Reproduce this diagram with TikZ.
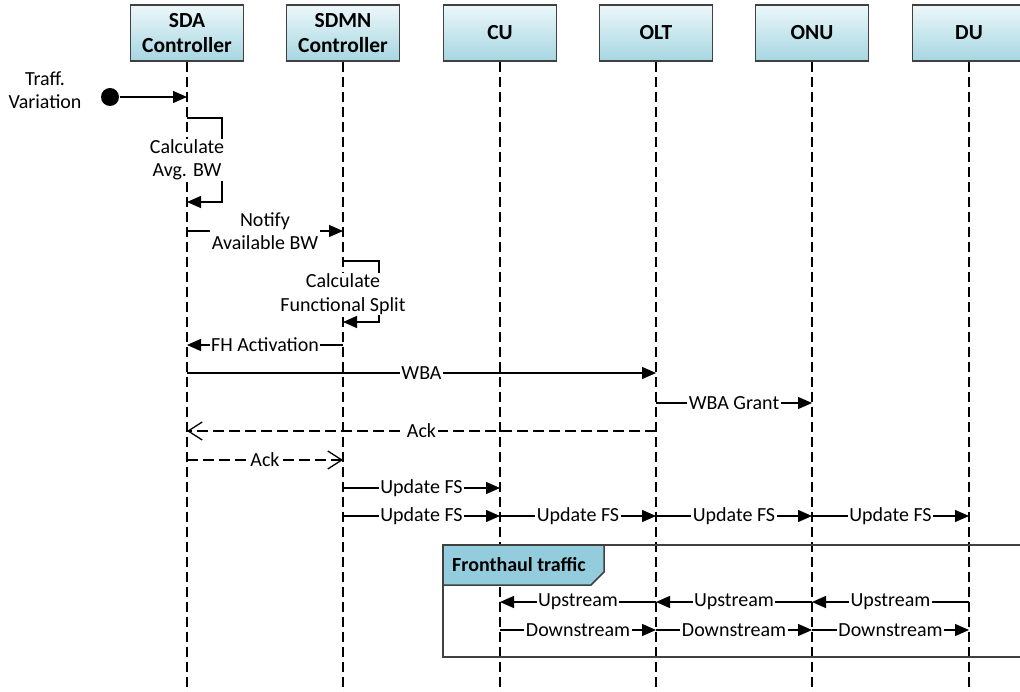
\documentclass[tikz,border=0pt]{standalone}
\usepackage{fontspec}
\setmainfont{Carlito}
\usetikzlibrary{arrows.meta}
\definecolor{hdrtop}{RGB}{236,247,250}
\definecolor{hdrbot}{RGB}{166,214,225}
\definecolor{hdrline}{RGB}{64,64,64}
\definecolor{tabc}{RGB}{147,205,221}
\begin{document}
\begin{tikzpicture}[x=1pt,y=-1pt, line width=1.3pt,
  hdr/.style={draw=hdrline, top color=hdrtop, bottom color=hdrbot, minimum width=113pt, minimum height=56pt,
    font=\bfseries\fontsize{21.5}{25.5}\selectfont, align=center, inner sep=0pt},
  life/.style={draw=black, dash pattern=on 10pt off 5pt, line width=1.2pt},
  msg/.style={-{Triangle[length=14pt,width=12pt]}},
  ret/.style={dash pattern=on 11pt off 5pt, -{Straight Barb[length=14pt,width=18pt]}},
  lbl/.style={fill=white, inner xsep=1.5pt, inner ysep=0.5pt, font=\fontsize{20}{23.5}\selectfont, align=center},
  txt/.style={inner sep=0pt, font=\fontsize{20}{23.5}\selectfont, align=center},
  frm/.style={draw=hdrline, line width=1.5pt},
]
\useasboundingbox (0,0) rectangle (1020,692);
\clip (0,0) rectangle (1020,692);
% lifeline ends
\coordinate (sdaE) at (187,692);
\coordinate (sdmnE) at (343,692);
\coordinate (cuE) at (500,692);
\coordinate (oltE) at (656,692);
\coordinate (onuE) at (812,692);
\coordinate (duE) at (969,692);
% headers
\node[hdr] (sda) at (187,33) {SDA\\Controller};
\node[hdr] (sdmn) at (343,33) {SDMN\\Controller};
\node[hdr] (cu) at (500,33) {CU};
\node[hdr] (olt) at (656,33) {OLT};
\node[hdr] (onu) at (812,33) {ONU};
\node[hdr] (du) at (969,33) {DU};
\draw[life] (sda.south) -- (sdaE);
\draw[life] (sdmn.south) -- (sdmnE);
\draw[life] (cu.south) -- (cuE);
\draw[life] (olt.south) -- (oltE);
\draw[life] (onu.south) -- (onuE);
\draw[life] (du.south) -- (duE);

% Traffic variation
\node[txt] (tv) at (45,90) {Traff.\\Variation};
\node[circle, fill=black, inner sep=0pt, minimum size=18pt] (dot) at (110,97) {};
\coordinate (tvE) at (187,97);
\draw[msg] (dot) -- (tvE);

% self loop SDA
\coordinate (a1) at (187,118);
\coordinate (a2) at (187,202);
\draw[msg] (a1) -- ++(35,0) -- ++(0,84) -- (a2);
\node[lbl] (la) at (187,160) {Calculate\\Avg. BW};

% Notify
\coordinate (b1) at (187,231);
\coordinate (b2) at (343,231);
\draw[msg] (b1) -- node[lbl] {Notify\\Available BW} (b2);

% self loop SDMN
\coordinate (c1) at (343,261);
\coordinate (c2) at (343,322);
\draw[msg] (c1) -- ++(36,0) -- ++(0,61) -- (c2);
\node[lbl] (lc) at (343,294) {Calculate\\Functional Split};

% FH Activation
\coordinate (d1) at (343,345);
\coordinate (d2) at (187,345);
\draw[msg] (d1) -- node[lbl] {FH Activation} (d2);

% WBA
\coordinate (e1) at (187,373);
\coordinate (e2) at (656,373);
\draw[msg] (e1) -- node[lbl] {WBA} (e2);

% WBA Grant
\coordinate (f1) at (656,403);
\coordinate (f2) at (812,403);
\draw[msg] (f1) -- node[lbl] {WBA Grant} (f2);

% Ack
\coordinate (g1) at (656,431);
\coordinate (g2) at (187,431);
\draw[ret] (g1) -- node[lbl] {Ack} (g2);
\coordinate (h1) at (187,460);
\coordinate (h2) at (343,460);
\draw[ret] (h1) -- node[lbl] {Ack} (h2);

% Update FS
\coordinate (i1) at (343,488);
\coordinate (i2) at (500,488);
\draw[msg] (i1) -- node[lbl] {Update FS} (i2);
\coordinate (j1) at (343,516);
\coordinate (j2) at (500,516);
\coordinate (j3) at (656,516);
\coordinate (j4) at (812,516);
\coordinate (j5) at (969,516);
\draw[msg] (j1) -- node[lbl] {Update FS} (j2);
\draw[msg] (j2) -- node[lbl] {Update FS} (j3);
\draw[msg] (j3) -- node[lbl] {Update FS} (j4);
\draw[msg] (j4) -- node[lbl] {Update FS} (j5);

% Fronthaul frame
\draw[frm] (443,545) rectangle (1040,657);
\draw[frm, fill=tabc] (443,545) -- (604,545) -- (604,572) -- (591,585) -- (443,585) -- cycle;
\node[inner sep=0pt, font=\bfseries\fontsize{20}{23}\selectfont] (ft) at (519,565) {Fronthaul traffic};

\coordinate (k1) at (969,602);
\coordinate (k2) at (812,602);
\coordinate (k3) at (656,602);
\coordinate (k4) at (500,602);
\draw[msg] (k1) -- node[lbl] {Upstream} (k2);
\draw[msg] (k2) -- node[lbl] {Upstream} (k3);
\draw[msg] (k3) -- node[lbl] {Upstream} (k4);
\coordinate (m1) at (500,630);
\coordinate (m2) at (656,630);
\coordinate (m3) at (812,630);
\coordinate (m4) at (969,630);
\draw[msg] (m1) -- node[lbl] {Downstream} (m2);
\draw[msg] (m2) -- node[lbl] {Downstream} (m3);
\draw[msg] (m3) -- node[lbl] {Downstream} (m4);
\end{tikzpicture}
\end{document}
